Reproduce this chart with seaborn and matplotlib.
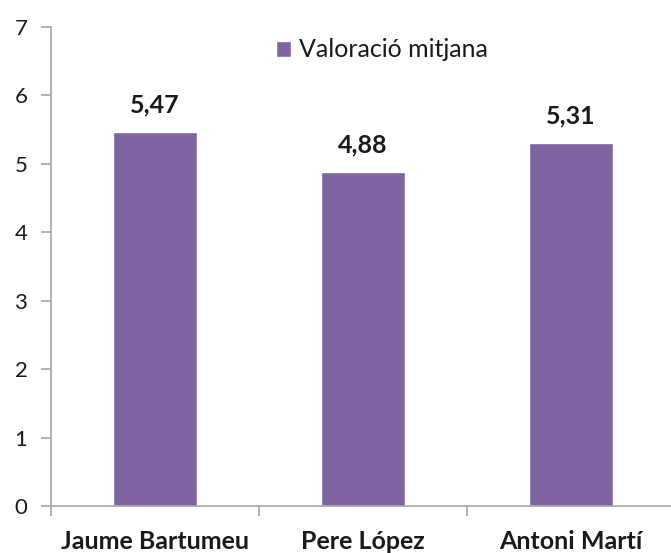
import matplotlib
matplotlib.use("Agg")
import matplotlib.pyplot as plt
import seaborn as sns
import pandas as pd
from matplotlib.ticker import FixedLocator

categories = ["Jaume Bartumeu", "Pere López", "Antoni Martí"]
values = [5.47, 4.88, 5.31]
value_labels = ["5,47", "4,88", "5,31"]
series_name = "Valoració mitjana"
yticks = [0, 1, 2, 3, 4, 5, 6, 7]

sns.set_style("white")
plt.rcParams['font.family'] = ['Lato', 'DejaVu Sans']

df = pd.DataFrame({"cat": categories, "val": values, "series": series_name})

fig = plt.figure(figsize=(6.71, 5.53), dpi=100)
ax = fig.add_axes([51/671, 47/553, 624/671, (506-27)/553])

color = "#8064A2"
sns.barplot(data=df, x="cat", y="val", hue="series", palette=[color],
            width=0.4, ax=ax, saturation=1, dodge=False)

ax.set_xlim(-0.5, 2.5)
ax.set_ylim(0, 7)
ax.set_yticks(yticks)
ax.set_xlabel("")
ax.set_ylabel("")

for s in ["top", "right"]:
    ax.spines[s].set_visible(False)
for s in ["left", "bottom"]:
    ax.spines[s].set_color("#A6A6A6")
    ax.spines[s].set_linewidth(1.2)

ax.tick_params(axis="y", which="major", length=7, width=1.2, color="#A6A6A6",
               labelsize=16, labelcolor="#1a1a1a", pad=10, left=True)
ax.tick_params(axis="x", which="major", length=0, labelsize=18, pad=17)
ax.xaxis.set_minor_locator(FixedLocator([-0.5, 0.5, 1.5]))
ax.tick_params(axis="x", which="minor", length=7, width=1.2, color="#A6A6A6", bottom=True)
for lbl in ax.get_xticklabels():
    lbl.set_fontweight("bold")
    lbl.set_color("#1a1a1a")

for i, (v, t) in enumerate(zip(values, value_labels)):
    ax.annotate(t, (i, v), xytext=(0, 11), textcoords="offset points",
                ha="center", va="bottom", fontsize=18, fontweight="bold", color="#1a1a1a")

leg = ax.legend(loc="center", bbox_to_anchor=(0.53, 0.952), frameon=False,
                fontsize=18, handlelength=0.6, handleheight=0.6, handletextpad=0.3)
for t in leg.get_texts():
    t.set_color("#1a1a1a")

fig.savefig("out.png", dpi=100)
